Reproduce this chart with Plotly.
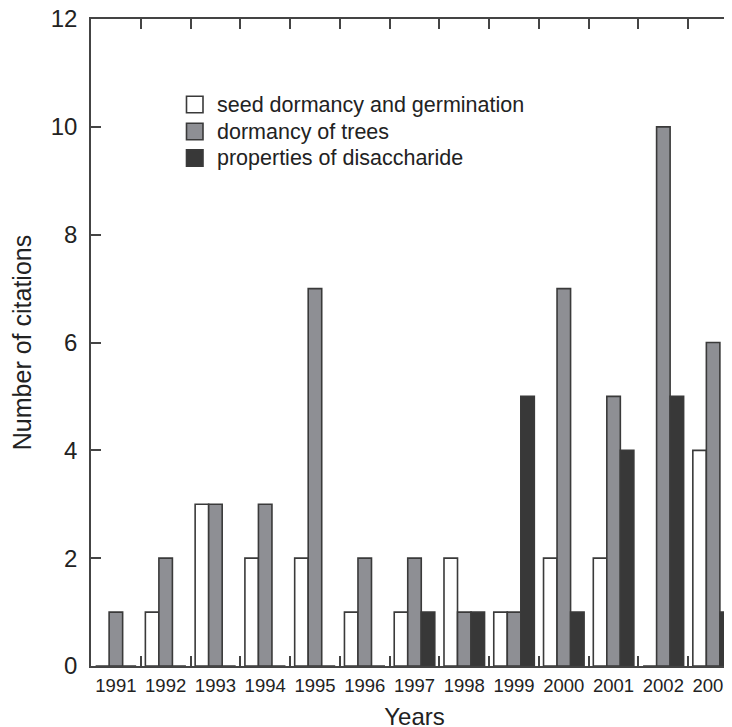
import plotly.graph_objects as go

years = ["1991", "1992", "1993", "1994", "1995", "1996", "1997",
         "1998", "1999", "2000", "2001", "2002", "2003"]
seed_germination = [0, 1, 3, 2, 2, 1, 1, 2, 1, 2, 2, 0, 4]
dormancy_trees = [1, 2, 3, 3, 7, 2, 2, 1, 1, 7, 5, 10, 6]
disaccharide = [0, 0, 0, 0, 0, 0, 1, 1, 5, 1, 4, 5, 1]

series_names = ["seed dormancy and germination", "dormancy of trees",
                "properties of disaccharide"]
series_values = [seed_germination, dormancy_trees, disaccharide]
series_colors = ["#ffffff", "#8e8f94", "#383838"]

edge = "#3a3a3a"
axis_col = "#444444"
text_col = "#222222"
font_main = "Liberation Sans, Arial, Helvetica, sans-serif"

# page body has an 8px margin; compensate so the plot lands where the reference has it
OFF = 8
W, H = 732, 727
plot_l, plot_t, plot_r, plot_b = 91, 19, 738, 666  # target window pixels

fig = go.Figure()
for name, vals, col in zip(series_names, series_values, series_colors):
    fig.add_trace(go.Bar(x=years, y=vals, name=name, showlegend=False,
                         marker=dict(color=col, line=dict(color=edge, width=1.6))))

# manual legend (squares + text) in paper coordinates
def px_to_paper_x(px):
    return (px - plot_l) / (plot_r - plot_l)

def px_to_paper_y(py):
    return (plot_b - py) / (plot_b - plot_t)

legend_rows_y = [104.5, 131.5, 158]
sq = 16.5
for name, col, ry in zip(series_names, series_colors, legend_rows_y):
    fig.add_shape(type="rect", xref="paper", yref="paper",
                  x0=px_to_paper_x(186.5), x1=px_to_paper_x(186.5 + sq),
                  y0=px_to_paper_y(ry + sq / 2), y1=px_to_paper_y(ry - sq / 2),
                  fillcolor=col, line=dict(color=edge, width=1.6))
    fig.add_annotation(xref="paper", yref="paper", x=px_to_paper_x(215),
                       y=px_to_paper_y(ry), xanchor="left", yanchor="middle",
                       text=name, showarrow=False,
                       font=dict(size=21.5, family=font_main, color=text_col))

fig.update_layout(
    width=W, height=H,
    margin=dict(l=plot_l - OFF, r=W - (plot_r - OFF), t=plot_t - OFF,
                b=H - (plot_b - OFF), autoexpand=False),
    paper_bgcolor="white", plot_bgcolor="white",
    barmode="group", bargap=0.185, bargroupgap=0,
    showlegend=False,
    font=dict(family=font_main, color=text_col),
    xaxis=dict(type="category", range=[-0.5, 12.5], tickangle=0,
               showline=True, linecolor=axis_col, linewidth=1.6,
               mirror="ticks", ticks="inside", ticklen=10, tickwidth=1.6,
               tickcolor=axis_col, tickson="boundaries",
               showgrid=False, zeroline=False, ticklabelstandoff=2,
               ticklabeloverflow="allow",
               tickfont=dict(size=18.5, family=font_main, color=text_col),
               title=dict(text="Years", font=dict(size=24, family=font_main),
                          standoff=13)),
    yaxis=dict(range=[0, 12], tickvals=[0, 2, 4, 6, 8, 10, 12],
               showline=True, linecolor=axis_col, linewidth=1.6,
               mirror="ticks", ticks="inside", ticklen=10, tickwidth=1.6,
               tickcolor=axis_col, ticklabeloverflow="allow",
               showgrid=False, zeroline=False, ticklabelstandoff=7,
               tickfont=dict(size=24, family=font_main, color=text_col),
               title=dict(text="Number of citations",
                          font=dict(size=25, family=font_main), standoff=26)),
)

fig.write_html("out.html")
